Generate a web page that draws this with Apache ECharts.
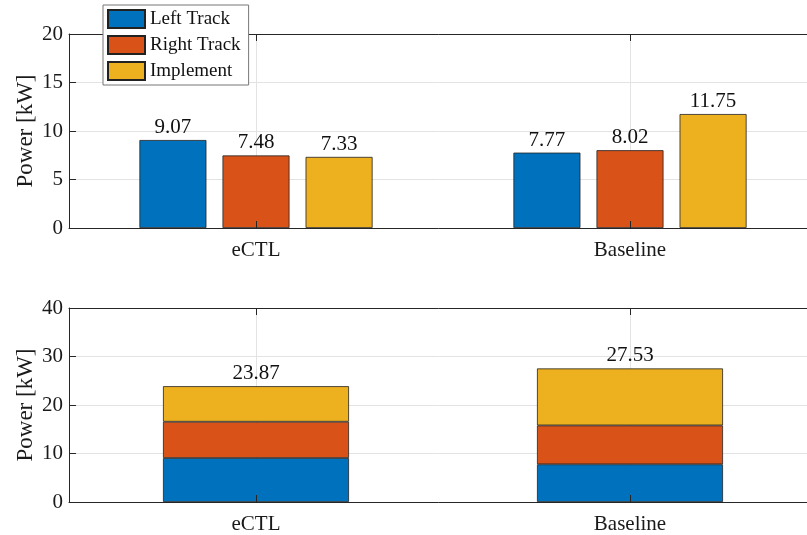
<!DOCTYPE html>
<html>
<head>
<meta charset="utf-8">
<script src="https://cdn.jsdelivr.net/npm/echarts@6/dist/echarts.min.js"></script>
<style>
  html, body { margin: 0; padding: 0; background: #fff; }
  #chart { width: 807px; height: 535px; }
</style>
</head>
<body>
<div id="chart"></div>
<script>
// Power split per configuration
const categories = ['eCTL', 'Baseline'];
const seriesNames = ['Left Track', 'Right Track', 'Implement'];
const leftTrack = [9.07, 7.77];
const rightTrack = [7.48, 8.02];
const implement = [7.33, 11.75];
const totals = [23.87, 27.53];
const topTicks = [0, 5, 10, 15, 20];
const bottomTicks = [0, 10, 20, 30, 40];

const colors = ['#0072BD', '#D95319', '#EDB120'];
const FONT = 'Liberation Serif';
const AXIS = '#262626';
const GRID = '#e3e3e3';

const values = [leftTrack, rightTrack, implement];

const chart = echarts.init(document.getElementById('chart'), null, { renderer: 'canvas' });

function xAxes(gridIndex) {
  return [
    {
      type: 'category', gridIndex, data: categories, position: 'bottom',
      axisLine: { show: true, lineStyle: { color: AXIS, width: 1 } },
      axisTick: { show: true, inside: true, alignWithLabel: true, length: 7, lineStyle: { color: AXIS } },
      axisLabel: { fontFamily: FONT, fontSize: 21, color: '#1a1a1a', margin: 12 },
      splitLine: { show: false },
      z: 5
    },
    {
      type: 'category', gridIndex, data: categories, position: 'top',
      axisLine: { show: true, onZero: false, lineStyle: { color: AXIS, width: 1 } },
      axisTick: { show: true, inside: true, alignWithLabel: true, length: 7, lineStyle: { color: AXIS } },
      axisLabel: { show: false },
      splitLine: { show: false },
      z: 5
    }
  ];
}

function yAxis(gridIndex, ticks) {
  return {
    type: 'value', gridIndex,
    min: ticks[0], max: ticks[ticks.length - 1], interval: ticks[1] - ticks[0],
    name: 'Power [kW]', nameLocation: 'middle', nameGap: 32, nameMoveOverlap: false,
    nameTextStyle: { fontFamily: FONT, fontSize: 23, color: '#1a1a1a' },
    axisLine: { show: true, lineStyle: { color: AXIS, width: 1 } },
    axisTick: { show: true, inside: true, length: 7, lineStyle: { color: AXIS } },
    axisLabel: { fontFamily: FONT, fontSize: 21, color: '#1a1a1a', margin: 6 },
    splitLine: { show: true, lineStyle: { color: GRID, width: 1 } }
  };
}

const series = [];

// vertical grid lines at the category centres, kept behind the bars
[0, 1].forEach(g => {
  series.push({
    type: 'line', xAxisIndex: g * 2, yAxisIndex: g, data: [], z: 1,
    markLine: {
      silent: true, symbol: 'none', label: { show: false }, z: 1,
      lineStyle: { color: GRID, type: 'solid', width: 1 },
      data: categories.map(c => ({ xAxis: c }))
    }
  });
});

// grouped bars
seriesNames.forEach((name, i) => {
  series.push({
    name, type: 'bar', xAxisIndex: 0, yAxisIndex: 0,
    data: values[i], barWidth: 67, barGap: '24%',
    itemStyle: { color: colors[i], borderColor: '#222', borderWidth: 0.8 },
    label: {
      show: true, position: 'top', distance: 2,
      fontFamily: FONT, fontSize: 21, color: '#111',
      formatter: p => p.value.toFixed(2)
    },
    z: 3
  });
});

// stacked bars
seriesNames.forEach((name, i) => {
  series.push({
    name, type: 'bar', xAxisIndex: 2, yAxisIndex: 1, stack: 'total',
    data: values[i], barWidth: 186,
    itemStyle: { color: colors[i], borderColor: '#222', borderWidth: 0.8 },
    label: i === 2 ? {
      show: true, position: 'top', distance: 2,
      fontFamily: FONT, fontSize: 21, color: '#111',
      formatter: p => totals[p.dataIndex].toFixed(2)
    } : { show: false },
    z: 3
  });
});

chart.setOption({
  animation: false,
  backgroundColor: '#ffffff',
  color: colors,
  grid: [
    { left: 69, top: 34, width: 748, height: 194, outerBoundsMode: 'none', containLabel: false },
    { left: 69, top: 308, width: 748, height: 194, outerBoundsMode: 'none', containLabel: false }
  ],
  legend: {
    data: seriesNames, orient: 'vertical', left: 103, top: 5,
    itemWidth: 37, itemHeight: 18, itemGap: 6, padding: [4, 8, 4, 4],
    backgroundColor: '#ffffff', borderColor: '#777', borderWidth: 1,
    textStyle: { fontFamily: FONT, fontSize: 19, color: '#111' },
    icon: 'rect', z: 10
  },
  xAxis: [...xAxes(0), ...xAxes(1)],
  yAxis: [yAxis(0, topTicks), yAxis(1, bottomTicks)],
  series
});
</script>
</body>
</html>
